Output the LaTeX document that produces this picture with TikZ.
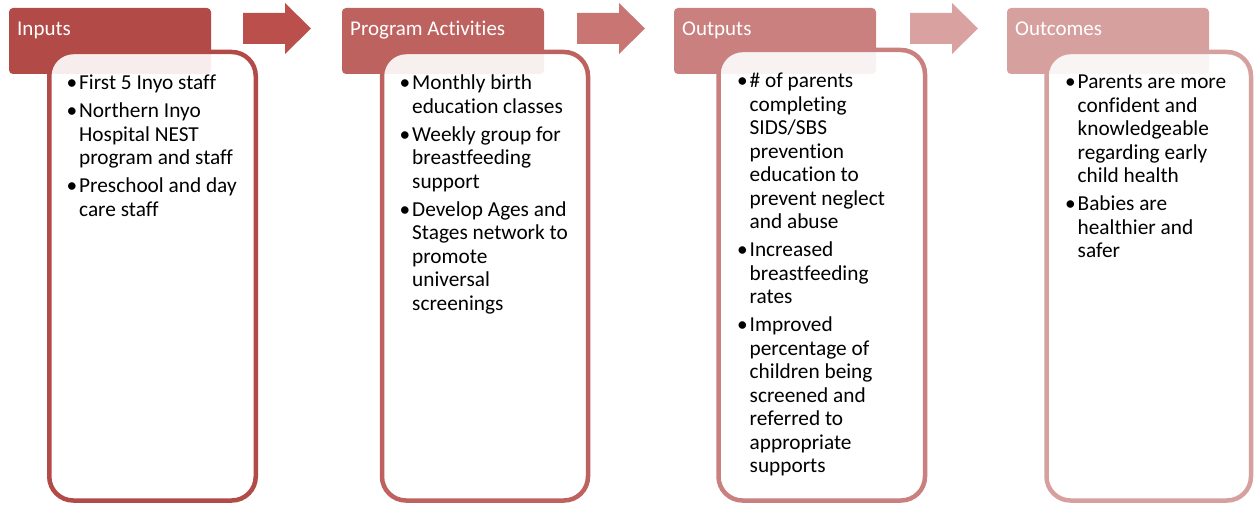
\documentclass[tikz,border=0pt]{standalone}
\usepackage{fontspec}
\setmainfont{Carlito}[Ligatures={NoCommon}]
\definecolor{hdA}{RGB}{178,75,72}
\definecolor{hdB}{RGB}{190,98,96}
\definecolor{hdC}{RGB}{201,128,127}
\definecolor{hdD}{RGB}{214,160,159}
\definecolor{arA}{RGB}{186,79,76}
\definecolor{arB}{RGB}{201,117,115}
\definecolor{arC}{RGB}{217,162,161}
\newcommand{\bul}{\makebox[12.5pt][l]{\textbullet}}
\newcommand{\ind}{\hspace*{12.5pt}}
\tikzset{
  header/.style={fill=#1, rounded corners=4pt},
  panel/.style={draw=#1, line width=4.5pt, fill=white, fill opacity=0.9, rounded corners=24pt},
  title/.style={text=white, anchor=base west, inner sep=0pt, font=\fontsize{21}{24}\selectfont},
  items/.style={align=left, anchor=north west, inner sep=0pt, font=\fontsize{21.3}{23.5}\selectfont},
}

\begin{document}
\begin{tikzpicture}[x=1pt,y=-1pt]
\useasboundingbox (0,0) rectangle (1254,505);
% block arrows
\foreach \ax/\col in {243/arA, 577/arB, 910/arC}
  \fill[\col] (\ax,13) -- (\ax+42,13) -- (\ax+42,3) -- (\ax+68,28.5) -- (\ax+42,54) -- (\ax+42,44) -- (\ax,44) -- cycle;

% headers and panels
\foreach \hx/\bl/\br/\bt/\col/\ttl/\nm in {9/49.25/255.75/52/hdA/Inputs/inputs, 342/382/588/52/hdB/Program Activities/activities, 674/718.5/925/50/hdC/Outputs/outputs, 1007/1046.5/1251/52/hdD/Outcomes/outcomes}{
  \fill[header=\col] (\hx,8) rectangle (\hx+202,74);
  \node[title] (t-\nm) at (\hx+8,36) {\ttl};
  \draw[panel=\col] (\bl,\bt) rectangle (\br,500.5);
}

\node[items] (l-inputs) at (66.5,75) {\bul First 5 Inyo staff\\[4.5pt]
\bul Northern Inyo\\ \ind Hospital NEST\\ \ind program and staff\\[4.5pt]
\bul Preschool and day\\ \ind care staff};

\node[items] (l-activities) at (399.5,75) {\bul Monthly birth\\ \ind education classes\\[4.5pt]
\bul Weekly group for\\ \ind breastfeeding\\ \ind support\\[4.5pt]
\bul Develop Ages and\\ \ind Stages network to\\ \ind promote\\ \ind universal\\ \ind screenings};

\node[items] (l-outputs) at (737,73) {\bul \# of parents\\ \ind completing\\ \ind SIDS/SBS\\ \ind prevention\\ \ind education to\\ \ind prevent neglect\\ \ind and abuse\\[4.5pt]
\bul Increased\\ \ind breastfeeding\\ \ind rates\\[4.5pt]
\bul Improved\\ \ind percentage of\\ \ind children being\\ \ind screened and\\ \ind referred to\\ \ind appropriate\\ \ind supports};

\node[items] (l-outcomes) at (1065,75) {\bul Parents are more\\ \ind confident and\\ \ind knowledgeable\\ \ind regarding early\\ \ind child health\\[4.5pt]
\bul Babies are\\ \ind healthier and\\ \ind safer};
\end{tikzpicture}
\end{document}
